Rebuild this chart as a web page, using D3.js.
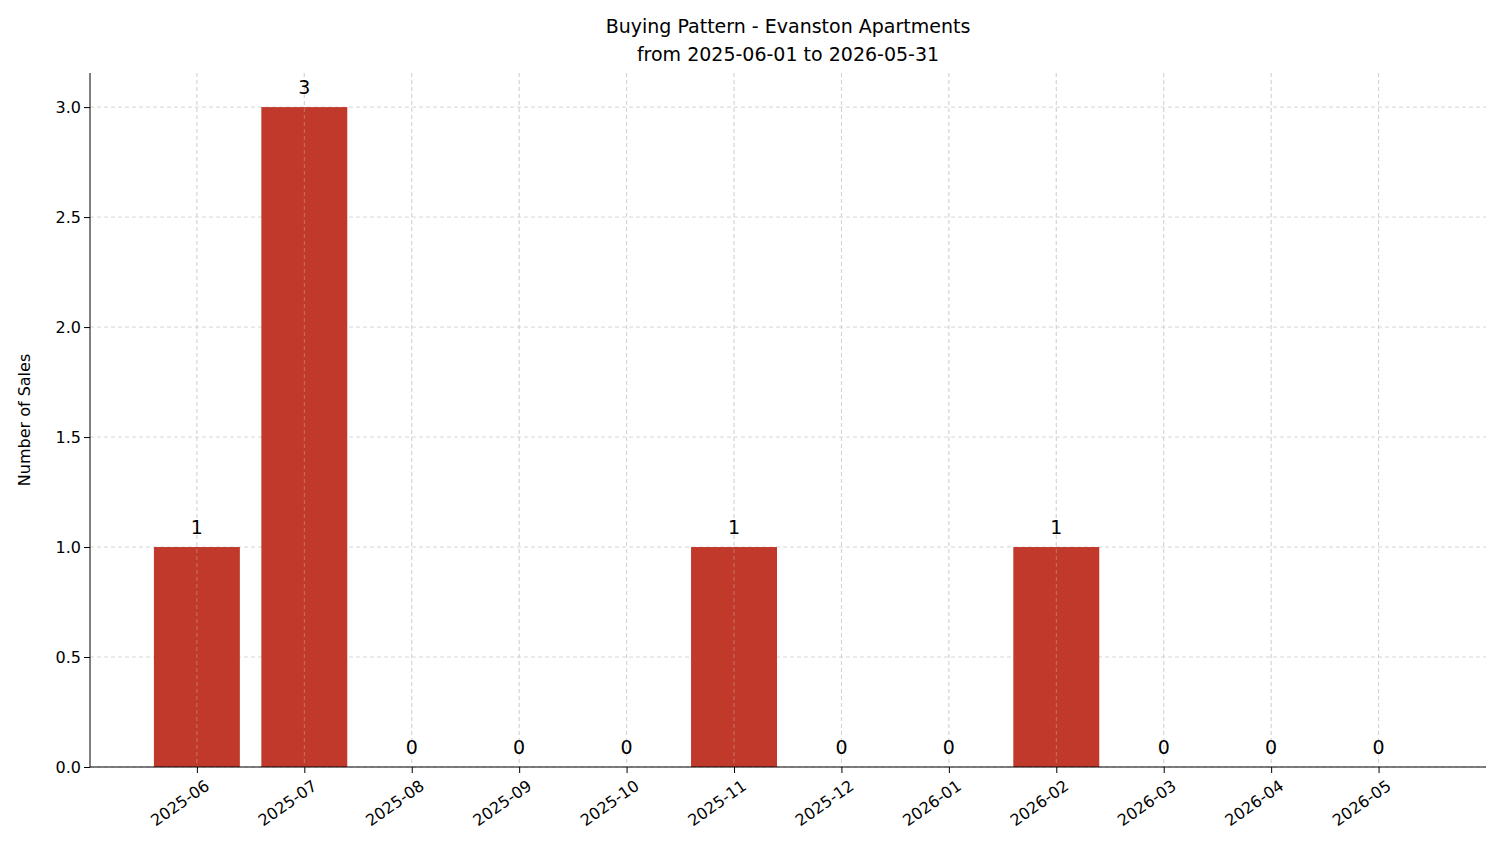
<!DOCTYPE html>
<html><head><meta charset="utf-8">
<script src="https://d3js.org/d3.v7.min.js"></script>
<style>body{margin:0;background:#fff}text{font-family:"DejaVu Sans",sans-serif}</style>
</head><body><svg id="c" width="1501" height="863"></svg>
<script>
const months=["2025-06","2025-07","2025-08","2025-09","2025-10","2025-11","2025-12","2026-01","2026-02","2026-03","2026-04","2026-05"];
const sales=[1,3,0,0,0,1,0,0,1,0,0,0];
const yTicks=[0,0.5,1.0,1.5,2.0,2.5,3.0];
const svg=d3.select("#c");
const L=90,R=1486,T=73,B=767;
const x=d3.scaleLinear().domain([-1,12]).range([L,R]);
x.domain([-0.995,12.0]);
const y=d3.scaleLinear().domain([0,3.155]).range([B,T]);
const bw=(x(1)-x(0))*0.8;
const g=svg.append("g");
// grid
g.selectAll(".gy").data(yTicks).join("line").attr("x1",L).attr("x2",R).attr("y1",d=>y(d)).attr("y2",d=>y(d)).attr("stroke","#ccc").attr("stroke-dasharray","4,3").attr("stroke-width",0.8);
g.selectAll(".gx").data(months).join("line").attr("x1",(d,i)=>x(i)).attr("x2",(d,i)=>x(i)).attr("y1",T).attr("y2",B).attr("stroke","#ccc").attr("stroke-dasharray","4,3").attr("stroke-width",0.8);
// bars
g.selectAll(".bar").data(sales).join("rect").attr("x",(d,i)=>x(i)-bw/2).attr("width",bw).attr("y",d=>y(d)).attr("height",d=>B-y(d)).attr("fill","#c0392b");
// grid over bars (matplotlib draws grid above? reference shows dashed lines over bars)
g.selectAll(".gx2").data(months).join("line").attr("x1",(d,i)=>x(i)).attr("x2",(d,i)=>x(i)).attr("y1",T).attr("y2",B).attr("stroke","#ccc").attr("stroke-opacity",0.5).attr("stroke-dasharray","4,3").attr("stroke-width",0.8);
// value labels
g.selectAll(".vl").data(sales).join("text").attr("x",(d,i)=>x(i)).attr("y",d=>y(d)-13).attr("text-anchor","middle").attr("font-size",19).text(d=>d);
// axes
const ya=svg.append("g").attr("transform",`translate(${L},0)`).call(d3.axisLeft(y).tickValues(yTicks).tickFormat(d3.format(".1f")).tickSizeOuter(0));
ya.select(".domain").attr("d",`M0,${B}V${T}`);
ya.selectAll("text").attr("font-size",16).attr("font-family","DejaVu Sans").attr("fill","#000");
const xa=svg.append("g").attr("transform",`translate(0,${B})`).call(d3.axisBottom(x).tickValues(d3.range(12)).tickFormat(i=>months[i]).tickSizeOuter(0));
xa.select(".domain").attr("d",`M${L},0H${R}`);
xa.selectAll("text").attr("font-size",16).attr("font-family","DejaVu Sans").attr("fill","#000")
 .attr("text-anchor","end").attr("dy",0).attr("transform","translate(8,14) rotate(-35)");
svg.append("text").attr("x",788).attr("y",33).attr("text-anchor","middle").attr("font-size",19).text("Buying Pattern - Evanston Apartments");
svg.append("text").attr("x",788).attr("y",61).attr("text-anchor","middle").attr("font-size",19).text("from 2025-06-01 to 2026-05-31");
svg.append("text").attr("transform","translate(30,420) rotate(-90)").attr("text-anchor","middle").attr("font-size",16).text("Number of Sales");
</script></body></html>
